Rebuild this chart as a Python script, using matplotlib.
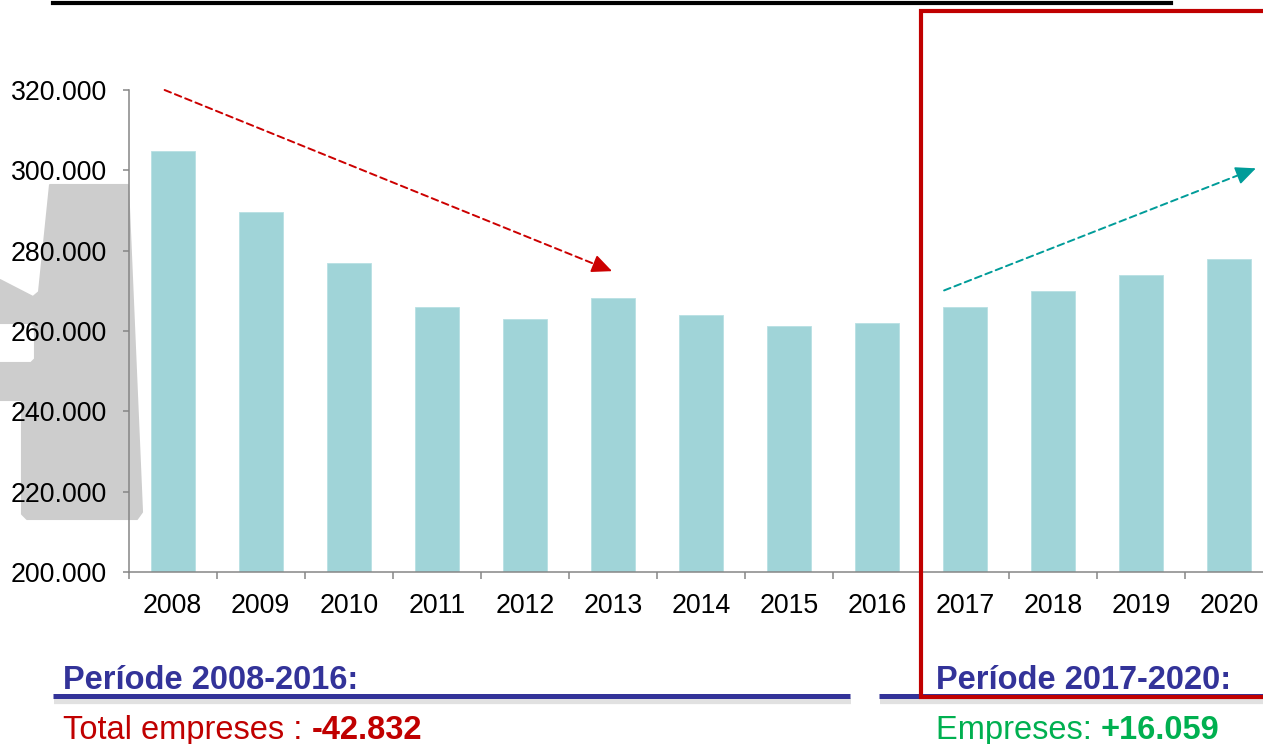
import matplotlib
matplotlib.use("Agg")
import matplotlib.pyplot as plt
import matplotlib.patheffects as pe
from matplotlib.patches import Polygon
from matplotlib.lines import Line2D
from matplotlib.ticker import FuncFormatter, FixedLocator

plt.rcParams['font.family'] = ['Liberation Sans', 'DejaVu Sans']

# data
years = ['2008', '2009', '2010', '2011', '2012', '2013', '2014',
         '2015', '2016', '2017', '2018', '2019', '2020']
empreses = [304800, 289600, 276900, 266000, 263000, 268200, 264000,
            261250, 261970, 266000, 270000, 274000, 278030]
y_ticks = [200000, 220000, 240000, 260000, 280000, 300000, 320000]

period_1 = "Període 2008-2016:"
period_2 = "Període 2017-2020:"
total_1_label, total_1_value = "Total empreses : ", "-42.832"
total_2_label, total_2_value = "Empreses: ", "+16.059"

# trend arrows (start, end) in data units
trend_down = ((-0.09, 320000), (4.99, 274900))
trend_up = ((8.76, 270100), (12.30, 300500))

W, H = 1263, 744
BLUE = '#333399'
RED = '#c00000'
GREEN = '#00b050'
GRAY = '#868686'

fig = plt.figure(figsize=(W / 100, H / 100), dpi=100)


def fx(x):
    return x / W


def fy(y):
    return 1 - y / H


# grey decoration behind the y labels
shape = [(50, 185), (128, 185), (142, 512), (137, 519), (27, 519), (22, 514),
         (22, 400), (0, 400), (0, 363), (31, 363), (35, 359), (35, 327),
         (31, 323), (0, 323), (0, 280), (33, 297), (39, 292)]
fig.add_artist(Polygon([(fx(x), fy(y)) for x, y in shape], closed=True,
                       transform=fig.transFigure, facecolor='#cdcdcd',
                       edgecolor='#cdcdcd', lw=1.5, joinstyle='round', zorder=0))

ax = fig.add_axes([fx(128.5), fy(572), fx(1145), 482 / H])
ax.patch.set_alpha(0)
ax.set_zorder(1)

x = list(range(len(years)))
ax.bar(x, empreses, width=0.5, color='#a0d4d8', edgecolor='#b8e0e3',
       linewidth=0.6, zorder=2)

ax.set_xlim(-0.5, len(years) - 0.5)
ax.set_ylim(200000, 320000)
ax.set_xticks(x)
ax.set_xticklabels(years)
ax.xaxis.set_minor_locator(FixedLocator([i - 0.5 for i in range(len(years) + 1)]))
ax.set_yticks(y_ticks)
ax.yaxis.set_major_formatter(FuncFormatter(lambda v, p: f"{int(v):,}".replace(',', '.')))

ax.tick_params(axis='x', which='major', length=0, labelsize=19.3, pad=15)
ax.tick_params(axis='x', which='minor', length=5, width=1.1, color=GRAY)
ax.tick_params(axis='y', length=4.5, width=1.1, color=GRAY, labelsize=19.3, pad=11)
for s in ['top', 'right']:
    ax.spines[s].set_visible(False)
for s in ['left', 'bottom']:
    ax.spines[s].set_color(GRAY)
    ax.spines[s].set_linewidth(1.1)


def trend_arrow(start, end, color):
    # dashed shaft, then a solid head on the last stretch
    ax.annotate('', xy=end, xytext=start, annotation_clip=False,
                arrowprops=dict(arrowstyle='-', color=color, lw=1.4,
                                linestyle=(0, (3.5, 2.2)), shrinkA=0, shrinkB=8),
                zorder=3)
    near = (start[0] + 0.98 * (end[0] - start[0]), start[1] + 0.98 * (end[1] - start[1]))
    ax.annotate('', xy=end, xytext=near, annotation_clip=False,
                arrowprops=dict(arrowstyle='-|>,head_length=0.62,head_width=0.28',
                                color=color, lw=1.2, mutation_scale=20,
                                shrinkA=0, shrinkB=0), zorder=3)


trend_arrow(trend_down[0], trend_down[1], '#cc0000')
trend_arrow(trend_up[0], trend_up[1], '#009c99')

# top black rule
fig.add_artist(Line2D([fx(53), fx(1171)], [fy(3), fy(3)], color='black',
                      lw=3, transform=fig.transFigure, zorder=5))

# blue underlines with a soft shadow
shadow = [pe.SimpleLineShadow(offset=(0.5, -3.5), shadow_color='#aaaaaa', alpha=0.35,
                              linewidth=4.5), pe.Normal()]
for x0, x1 in [(53, 850), (879, 1270)]:
    fig.add_artist(Line2D([fx(x0), fx(x1)], [fy(696), fy(696)], color=BLUE, lw=3.6,
                          transform=fig.transFigure, zorder=5, path_effects=shadow,
                          solid_capstyle='butt'))

# red frame around the 2017-2020 period
fig.add_artist(Line2D([fx(1275), fx(921), fx(921), fx(1275)],
                      [fy(11), fy(11), fy(697), fy(697)], color=RED, lw=3,
                      transform=fig.transFigure, zorder=6,
                      solid_joinstyle='miter'))

fig.text(fx(63), fy(689), period_1, color=BLUE, fontsize=23.5, fontweight='bold',
         va='baseline', zorder=7)
fig.text(fx(936), fy(689), period_2, color=BLUE, fontsize=23.5, fontweight='bold',
         va='baseline', zorder=7)

t1 = fig.text(fx(63), fy(746), total_1_label, color=RED, fontsize=23.5, va='bottom')
fig.add_artist(plt.Annotation(total_1_value, xy=(1, 0), xycoords=t1, va='bottom',
                              color=RED, fontsize=23.5, fontweight='bold'))

t2 = fig.text(fx(936), fy(746), total_2_label, color=GREEN, fontsize=23.5, va='bottom')
fig.add_artist(plt.Annotation(total_2_value, xy=(1, 0), xycoords=t2, va='bottom',
                              color=GREEN, fontsize=23.5, fontweight='bold'))

fig.savefig('out.png', dpi=100)
